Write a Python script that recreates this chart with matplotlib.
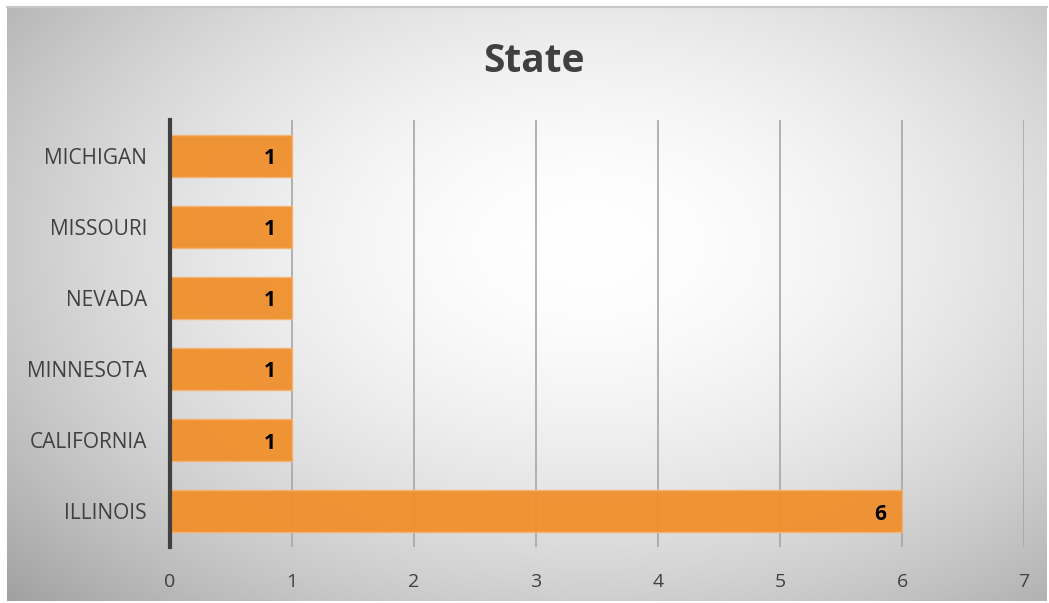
import matplotlib.pyplot as plt
import numpy as np

# data
states = ['ILLINOIS', 'CALIFORNIA', 'MINNESOTA', 'NEVADA', 'MISSOURI', 'MICHIGAN']
counts = [6, 1, 1, 1, 1, 1]
xticks = [0, 1, 2, 3, 4, 5, 6, 7]

bar_color = '#F0902C'
text_color = '#404040'

plt.rcParams['font.family'] = ['Open Sans', 'DejaVu Sans']

fig = plt.figure(figsize=(10.49, 6.03), dpi=100)
fig.patch.set_facecolor('white')

# radial gradient background of the chart area
bg = fig.add_axes([7 / 1049, 2 / 603, 1040 / 1049, 594 / 603])
bg.set_axis_off()
gx, gy = np.meshgrid(np.linspace(0, 1, 400), np.linspace(0, 1, 300))
r = np.sqrt(((gx - 0.56) / 0.62) ** 2 + ((gy - 0.40) / 0.70) ** 2)
shade = 1.0 - 0.25 * np.clip(r, 0, 1.25) ** 1.8
img = np.dstack([shade, shade, shade])
bg.imshow(np.clip(img, 0, 1), extent=[0, 1, 0, 1], aspect='auto', origin='upper')
bg.plot([0, 1], [1, 1], color='#c8c8c8', lw=1.5, transform=bg.transAxes, clip_on=False)

ax = fig.add_axes([170 / 1049, 1 - 547 / 603, 854 / 1049, 427 / 603])
ax.patch.set_alpha(0)

ypos = np.arange(len(states))
ax.set_axisbelow(True)
ax.grid(axis='x', color='#a6a6a6', linewidth=1.2)
ax.barh(ypos, counts, height=0.59, color=bar_color, edgecolor='#F6B275',
        linewidth=1.0, alpha=0.95, zorder=2)

# value labels at the inside end of each bar
for y, v in zip(ypos, counts):
    ax.text(v - 0.13, y - 0.04, str(v), ha='right', va='center',
            fontsize=15, fontweight='bold', color='black', zorder=3)

ax.set_xlim(0, 7)
ax.set_ylim(-0.5, len(states) - 0.5)
ax.set_xticks(xticks)
ax.set_yticks(ypos)
ax.set_yticklabels(states)

for s in ['top', 'right', 'bottom']:
    ax.spines[s].set_visible(False)
ax.spines['left'].set_color('#404040')
ax.spines['left'].set_linewidth(3)

ax.tick_params(axis='x', length=0, pad=19, labelsize=14, labelcolor=text_color)
ax.tick_params(axis='y', length=0, pad=16.5, labelsize=15, labelcolor=text_color)

fig.text(534 / 1049, 1 - 62 / 603, 'State', ha='center', va='center',
         fontsize=28, fontweight='bold', color=text_color)

fig.savefig('out.png', dpi=100)
